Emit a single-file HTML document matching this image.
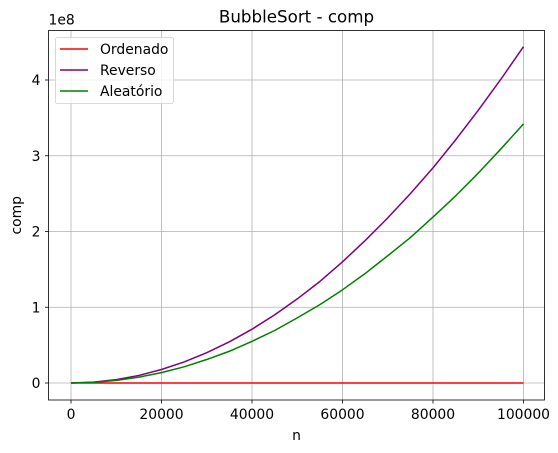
<!DOCTYPE html>
<html><head><meta charset="utf-8"><style>
body{margin:0;background:#fff;}
svg{display:block;font-family:"DejaVu Sans","Liberation Sans",sans-serif;}
</style></head><body>
<svg id="chart" width="558" height="453"></svg>
<script>
const nValues=[0,5000,10000,15000,20000,25000,30000,35000,40000,45000,50000,55000,60000,65000,70000,75000,80000,85000,90000,95000,100000];
const ordenado=[0,0,0,0,0,0,0,0,0,0,0,0,0,0,0,0,0,0,0,0,0];
const reverso=[0,0.011,0.044,0.10,0.178,0.278,0.40,0.544,0.71,0.90,1.11,1.34,1.60,1.88,2.18,2.50,2.84,3.21,3.60,4.01,4.44];
const aleatorio=[0,0.0086,0.034,0.077,0.137,0.214,0.31,0.419,0.55,0.693,0.86,1.035,1.23,1.445,1.68,1.92,2.19,2.47,2.77,3.09,3.42];
const xTicks=[0,20000,40000,60000,80000,100000];
const yTicks=[0,1,2,3,4];
const seriesNames=["Ordenado","Reverso","Aleatório"];
const seriesColors=["red","purple","green"];

const NS="http://www.w3.org/2000/svg";
const svg=document.getElementById('chart');
const L=48.5,R=544.5,T=30.5,B=400;
function X(v){return 71+v*(452.5/100000);}
function Y(v){return 383-v*75.75;}
function mk(tag,attrs,parent){const e=document.createElementNS(NS,tag);for(const k in attrs)e.setAttribute(k,attrs[k]);(parent||svg).appendChild(e);return e;}

const grid=mk('g',{});


xTicks.forEach(t=>{const l=mk('line',{x1:X(t),x2:X(t),y1:T,y2:B,stroke:'#b0b0b0','stroke-width':0.8},grid);
});
yTicks.forEach(t=>{const l=mk('line',{x1:L,x2:R,y1:Y(t),y2:Y(t),stroke:'#b0b0b0','stroke-width':0.8},grid);
});

const data=[ordenado,reverso,aleatorio];
data.forEach((s,i)=>{
  const p=mk('polyline',{points:s.map((v,j)=>X(nValues[j])+','+Y(v)).join(' '),fill:'none',stroke:seriesColors[i],'stroke-width':1.5,'stroke-linejoin':'round'});
  
  
});

const frame=mk('rect',{x:L,y:T,width:R-L,height:B-T,fill:'none',stroke:'#000','stroke-width':0.8});



xTicks.forEach(t=>{
  mk('line',{x1:X(t),x2:X(t),y1:B,y2:B+3.5,stroke:'#000','stroke-width':0.8});
  const tx=mk('text',{x:X(t),y:B+19,'text-anchor':'middle','font-size':13.9});
  tx.textContent=t;
  
  
});
yTicks.forEach(t=>{
  mk('line',{x1:L-3.5,x2:L,y1:Y(t),y2:Y(t),stroke:'#000','stroke-width':0.8});
  const tx=mk('text',{x:L-8,y:Y(t)+5,'text-anchor':'end','font-size':13.9});
  tx.textContent=t;
  
  
});
const off=mk('text',{x:L,y:T-6,'font-size':13.9});off.textContent='1e8';


const title=mk('text',{x:(L+R)/2,y:T-8,'text-anchor':'middle','font-size':16.7});title.textContent='BubbleSort - comp';


const xl=mk('text',{x:(L+R)/2,y:440,'text-anchor':'middle','font-size':13.9});xl.textContent='n';


const yl=mk('text',{x:21,y:(T+B)/2,'text-anchor':'middle','font-size':13.9,transform:'rotate(-90 21 '+((T+B)/2)+')'});yl.textContent='comp';



const lg=mk('g',{});


mk('rect',{x:55.5,y:37.5,width:118,height:66,rx:2,fill:'#fff','fill-opacity':0.8,stroke:'#d0d0d0','stroke-width':0.8},lg);
seriesNames.forEach((n,i)=>{
  const y=49+i*21;
  mk('line',{x1:60,x2:88,y1:y,y2:y,stroke:seriesColors[i],'stroke-width':1.5},lg);
  const t=mk('text',{x:100,y:y+5,'font-size':13.9},lg);t.textContent=n;
  
  
});
</script>
</body></html>
